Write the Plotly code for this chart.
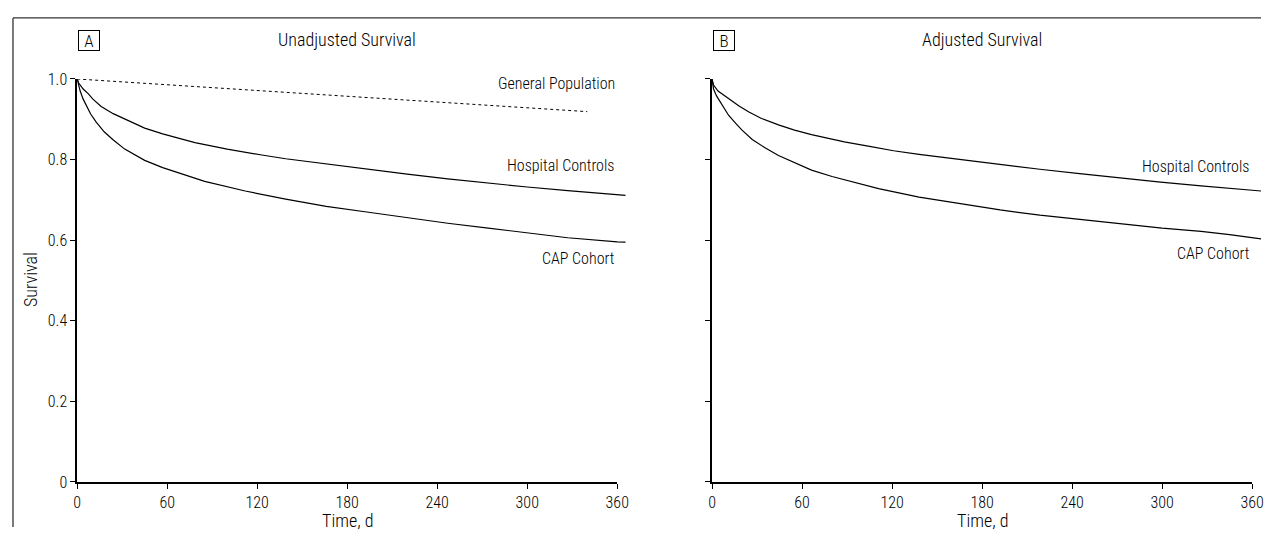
import plotly.graph_objects as go

# ---------------- data ----------------
time_ticks = [0, 60, 120, 180, 240, 300, 360]
surv_ticks = [0, 0.2, 0.4, 0.6, 0.8, 1.0]
surv_tick_labels = ["0", "0.2", "0.4", "0.6", "0.8", "1.0"]

# Panel A - unadjusted
gp_t = [0, 122, 340]
gp_s = [1.0, 0.971, 0.919]

hospA_t = [0, 1, 4, 7.5, 10.5, 16, 24, 32, 37, 45, 57, 78.5, 100, 112, 122, 139, 166, 193, 220, 247, 274, 300, 327, 360, 365.5]
hospA_s = [1.0, 0.99, 0.975, 0.963, 0.95, 0.932, 0.914, 0.90, 0.89, 0.878, 0.864, 0.842, 0.826, 0.818, 0.812, 0.802, 0.789, 0.777, 0.764, 0.752, 0.741, 0.732, 0.723, 0.712, 0.711]

capA_t = [0, 1, 2, 4, 6, 9, 12.7, 18, 23.7, 31.7, 45, 57, 85, 112, 139, 166, 193, 220, 247, 274, 300, 327, 360, 365.5]
capA_s = [1.0, 0.985, 0.97, 0.95, 0.934, 0.913, 0.893, 0.869, 0.85, 0.826, 0.798, 0.78, 0.746, 0.722, 0.702, 0.684, 0.67, 0.656, 0.642, 0.63, 0.618, 0.606, 0.596, 0.595]

# Panel B - adjusted
hospB_t = [0, 1, 4, 11.4, 18, 24.6, 33, 44.3, 55, 66.3, 88.2, 105, 121, 138, 165, 192, 218.5, 245, 272, 299, 326, 345, 366]
hospB_s = [1.0, 0.985, 0.97, 0.95, 0.933, 0.918, 0.902, 0.886, 0.873, 0.862, 0.844, 0.833, 0.822, 0.813, 0.80, 0.788, 0.776, 0.765, 0.754, 0.744, 0.735, 0.729, 0.722]

capB_t = [0, 1, 3, 7, 11, 15.8, 20, 26.8, 35, 44.3, 57, 66.3, 80, 97, 111, 138, 165, 192, 218.5, 245, 272, 300, 326, 345, 366]
capB_s = [1.0, 0.975, 0.958, 0.934, 0.91, 0.89, 0.873, 0.85, 0.83, 0.81, 0.789, 0.774, 0.758, 0.741, 0.728, 0.707, 0.691, 0.675, 0.662, 0.651, 0.641, 0.63, 0.622, 0.614, 0.603]

panel_titles = ["Unadjusted Survival", "Adjusted Survival"]
panel_letters = ["A", "B"]

# ---------------- layout geometry ----------------
# The page body keeps its default 8px margin, so the figure is 16px smaller than the window.
PAGE_MARGIN = 8
W, H = 1281 - 2 * PAGE_MARGIN, 545 - 2 * PAGE_MARGIN

def px(xpage):
    return min(1.0, max(0.0, (xpage - PAGE_MARGIN) / W))

def py(ypage):
    return min(1.0, max(0.0, 1 - (ypage - PAGE_MARGIN) / H))

FONT = "Roboto Condensed, Liberation Sans Narrow, Arial Narrow, DejaVu Sans Condensed, sans-serif"
XMAX_AXIS = 360
AXIS_PX = 547
PX_PER_DAY = AXIS_PX / 360.0

a_left, b_left = 74, 717
y_dom = [py(490.3), py(72.3)]

# data axes: slightly wider than the drawn axes, so the curves run a bit past day 360 as in the original
a_data_right = px(a_left + 366 * PX_PER_DAY)
b_data_right = px(b_left + 366 * PX_PER_DAY)
a_data_max = (a_data_right * W + PAGE_MARGIN - a_left) / PX_PER_DAY
b_data_max = (b_data_right * W + PAGE_MARGIN - b_left) / PX_PER_DAY

fig = go.Figure()

line_style = dict(color="black", width=1.2)
fig.add_trace(go.Scatter(x=hospA_t, y=hospA_s, mode="lines", line=line_style, xaxis="x3", yaxis="y", hoverinfo="skip"))
fig.add_trace(go.Scatter(x=capA_t, y=capA_s, mode="lines", line=line_style, xaxis="x3", yaxis="y", hoverinfo="skip"))
fig.add_trace(go.Scatter(x=gp_t, y=gp_s, mode="lines", line=dict(color="black", width=1, dash="dot"), xaxis="x", yaxis="y", hoverinfo="skip"))
fig.add_trace(go.Scatter(x=hospB_t, y=hospB_s, mode="lines", line=line_style, xaxis="x4", yaxis="y2", hoverinfo="skip"))
fig.add_trace(go.Scatter(x=capB_t, y=capB_s, mode="lines", line=line_style, xaxis="x4", yaxis="y2", hoverinfo="skip"))

tickfont = dict(family=FONT, size=16, color="black", weight=300)
xcommon = dict(range=[0, XMAX_AXIS], tickvals=time_ticks, ticktext=[str(v) for v in time_ticks],
               showline=True, linecolor="black", linewidth=1.6, ticks="outside", ticklen=5,
               tickwidth=1.3, tickcolor="black", showgrid=False, zeroline=False, tickfont=tickfont)
ycommon = dict(range=[0, 1], tickvals=surv_ticks, showline=True, linecolor="black", linewidth=1.6,
               ticks="outside", ticklen=5, tickwidth=1.3, tickcolor="black", showgrid=False,
               zeroline=False, tickfont=tickfont, domain=y_dom)
hidden = dict(visible=False, showgrid=False, zeroline=False)

fig.update_layout(
    width=W, height=H, autosize=False,
    margin=dict(l=0, r=0, t=0, b=0),
    paper_bgcolor="white", plot_bgcolor="rgba(0,0,0,0)",
    showlegend=False,
    font=dict(family=FONT, color="black"),
    xaxis=dict(xcommon, domain=[px(a_left), px(a_left + AXIS_PX)], anchor="y"),
    xaxis2=dict(xcommon, domain=[px(b_left), px(b_left + AXIS_PX)], anchor="y2"),
    xaxis3=dict(hidden, domain=[px(a_left), a_data_right], range=[0, a_data_max], anchor="y"),
    xaxis4=dict(hidden, domain=[px(b_left), b_data_right], range=[0, b_data_max], anchor="y2"),
    yaxis=dict(ycommon, anchor="x", ticktext=surv_tick_labels),
    yaxis2=dict(ycommon, anchor="x2", showticklabels=False),
)

ann = []
label_font = dict(family=FONT, size=16, color="black", weight=300)
title_font = dict(family=FONT, size=18, color="black", weight=300)
ann.append(dict(xref="x", yref="y", x=360, y=0.988, text="General Population", showarrow=False, xanchor="right", yanchor="middle", font=label_font))
ann.append(dict(xref="x", yref="y", x=360, y=0.786, text="Hospital Controls", showarrow=False, xanchor="right", yanchor="middle", font=label_font))
ann.append(dict(xref="x", yref="y", x=360, y=0.555, text="CAP Cohort", showarrow=False, xanchor="right", yanchor="middle", font=label_font))
ann.append(dict(xref="x2", yref="y2", x=360, y=0.782, text="Hospital Controls", showarrow=False, xanchor="right", yanchor="middle", font=label_font))
ann.append(dict(xref="x2", yref="y2", x=360, y=0.567, text="CAP Cohort", showarrow=False, xanchor="right", yanchor="middle", font=label_font))
for i, xr in enumerate(["x", "x2"]):
    ann.append(dict(xref=xr, yref="paper", x=180, y=py(31), text=panel_titles[i], showarrow=False,
                    xanchor="center", yanchor="middle", font=title_font))
    ann.append(dict(xref=xr, yref="paper", x=0, y=py(22), text=panel_letters[i], showarrow=False,
                    xanchor="left", yanchor="top", xshift=1, width=20, height=19, borderpad=0,
                    bordercolor="black", borderwidth=1, font=dict(family=FONT, size=17, color="black", weight=300)))
    ann.append(dict(xref=xr, yref="paper", x=180, y=py(530), text="Time, d", showarrow=False,
                    xanchor="center", yanchor="middle", font=title_font))
ann.append(dict(xref="paper", yref="paper", x=px(26), y=py(280), text="Survival", textangle=-90,
                showarrow=False, xanchor="center", yanchor="middle", font=title_font))
fig.update_layout(annotations=ann)

# outer frame (top and left edges only, as in the cropped figure)
frame = dict(color="#333333", width=1.3)
fig.add_shape(type="line", xref="paper", yref="paper", x0=px(9), x1=1, y0=py(9), y1=py(9), line=frame)
fig.add_shape(type="line", xref="paper", yref="paper", x0=px(9), x1=px(9), y0=0, y1=py(9), line=frame)

fig.write_html("out.html")
